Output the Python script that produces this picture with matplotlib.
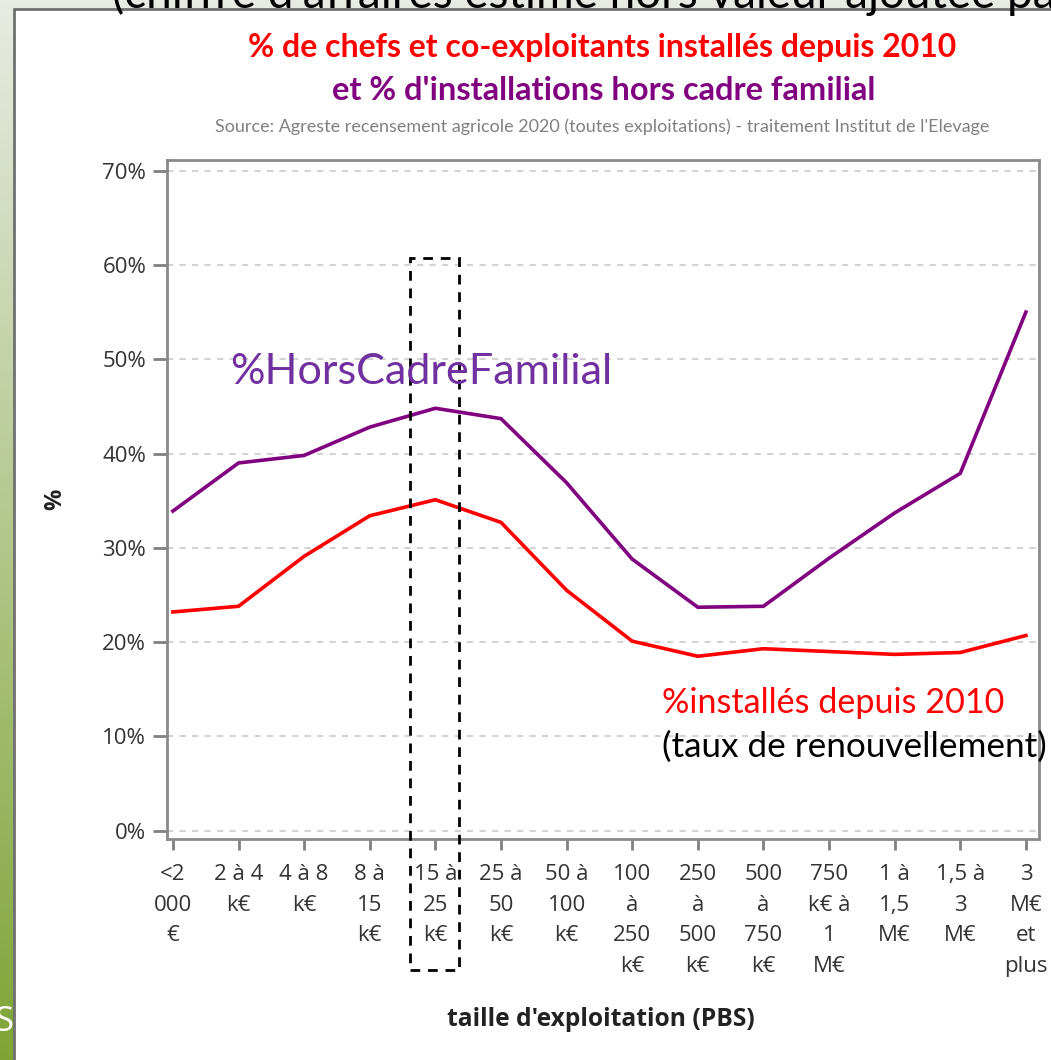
import numpy as np
import matplotlib
matplotlib.use("Agg")
import matplotlib.pyplot as plt
from matplotlib.patches import Rectangle
from matplotlib.colors import to_rgb

# ---------------- data ----------------
categories = ["<2\n000\n€", "2 à 4\nk€", "4 à 8\nk€", "8 à\n15\nk€", "15 à\n25\nk€",
              "25 à\n50\nk€", "50 à\n100\nk€", "100\nà\n250\nk€", "250\nà\n500\nk€",
              "500\nà\n750\nk€", "750\nk€ à\n1\nM€", "1 à\n1,5\nM€", "1,5 à\n3\nM€",
              "3\nM€\net\nplus"]
hors_cadre_familial = [33.9, 39.0, 39.8, 42.8, 44.8, 43.7, 36.9, 28.8, 23.7, 23.8,
                       28.9, 33.7, 37.9, 55.0]
installes_2010 = [23.2, 23.8, 29.1, 33.4, 35.1, 32.7, 25.5, 20.1, 18.5, 19.3,
                  19.0, 18.7, 18.9, 20.7]
y_ticks = [0, 10, 20, 30, 40, 50, 60, 70]
y_ticklabels = ["0%", "10%", "20%", "30%", "40%", "50%", "60%", "70%"]
highlight_index = 4

title1 = "% de chefs et co-exploitants installés depuis 2010"
title2 = "et % d'installations hors cadre familial"
source = "Source: Agreste recensement agricole 2020 (toutes exploitations) - traitement Institut de l'Elevage"

W, H = 1051, 1060
fig = plt.figure(figsize=(W / 100, H / 100), dpi=100)
fig.patch.set_facecolor("white")

# ---------------- background (slide) ----------------
bg = fig.add_axes([0, 0, 1, 1], zorder=-10)
bg.set_xlim(0, W)
bg.set_ylim(H, 0)
bg.axis("off")
c_top = np.array(to_rgb("#e8ebe3"))
c_bot = np.array(to_rgb("#7fa436"))
t = np.linspace(0, 1, 256)[:, None]
grad = (c_top * (1 - t) + c_bot * t)[:, None, :]
bg.imshow(grad, extent=[0, W, H, 0], aspect="auto", zorder=0)
bg.text(-6, 1031, "Sc", color="white", fontsize=25, family="Open Sans",
        va="baseline", ha="left", zorder=1)
bg.add_patch(Rectangle((14, 9), W, H, facecolor="white", edgecolor="#707070",
                       linewidth=2, zorder=2))
bg.text(112, 8, "(chiffre d'affaires estimé hors valeur ajoutée par", color="black",
        fontsize=33, family="Lato", va="baseline", ha="left", zorder=3)

# ---------------- main axes ----------------
L, R, T, B = 167, 1039, 160, 839
ax = fig.add_axes([L / W, 1 - B / H, (R - L) / W, (B - T) / H])
x = np.arange(len(categories))
ax.plot(x, hors_cadre_familial, color="#800080", lw=2.6, solid_joinstyle="miter", zorder=3)
ax.plot(x, installes_2010, color="#ff0000", lw=2.6, solid_joinstyle="miter", zorder=3)

ax.set_xlim(-0.09, 13.2)
ax.set_ylim(-0.88, 71.13)
ax.set_xticks(x)
ax.set_xticklabels(categories, family="Open Sans", fontsize=16, color="#333333",
                   linespacing=1.6, va="top")
ax.set_yticks(y_ticks)
ax.set_yticklabels(y_ticklabels, family="Open Sans", fontsize=16, color="#333333")
ax.tick_params(axis="x", length=8, width=2, color="#808080", pad=10, direction="out")
ax.tick_params(axis="y", length=10, width=2, color="#808080", pad=5, direction="out")
for s in ax.spines.values():
    s.set_color("#8a8a8a")
    s.set_linewidth(2)
ax.yaxis.grid(True, color="#d3d3d3", linestyle=(0, (3, 3)), linewidth=1.5)
ax.set_axisbelow(True)

ax.set_ylabel("%", family="Open Sans", fontweight="bold", fontsize=17, color="#222222")
ax.yaxis.set_label_coords(-0.114, 0.5)
ax.set_xlabel("taille d'exploitation (PBS)", family="Open Sans", fontweight="bold",
              fontsize=17, color="#222222")
ax.xaxis.set_label_coords(0.4977, -0.247)

# highlight rectangle around category
hx0 = highlight_index - 0.385
hx1 = highlight_index + 0.36
ax.add_patch(Rectangle((hx0, -14.8), hx1 - hx0, 60.7 + 14.8, fill=False,
                       edgecolor="black", linewidth=2, linestyle=(0, (3.5, 2.8)),
                       clip_on=False, zorder=4))

renderer = fig.canvas.get_renderer()


def fit(txt, target):
    w = txt.get_window_extent(renderer).width
    txt.set_fontsize(txt.get_fontsize() * target / w)


fit(ax.xaxis.label, 307)


def px_text(xp, yp, s, target=None, **kw):
    tt = fig.text(xp / W, 1 - yp / H, s, **kw)
    if target:
        fit(tt, target)
    return tt


# annotations
a1 = px_text(230, 384, "%HorsCadreFamilial", target=383, color="#7030a0",
             fontsize=28, family="Lato", ha="left", va="baseline")
a2 = px_text(662, 713, "%installés depuis 2010", target=341, color="#ff0000",
             fontsize=22, family="Lato", ha="left", va="baseline")
a3 = px_text(662, 757, "(taux de renouvellement)", target=383, color="black",
             fontsize=22, family="Lato", ha="left", va="baseline")

# titles
t1 = px_text(602, 57, title1, target=709, color="#ff0000", fontsize=18,
             family="Lato", fontweight="bold", ha="center", va="baseline")
t2 = px_text(604, 100, title2, target=546, color="#800080", fontsize=18,
             family="Lato", fontweight="bold", ha="center", va="baseline")
t3 = px_text(602, 132, source, target=775, color="#808080", fontsize=9,
             family="Lato", ha="center", va="baseline")

fig.savefig("out.png", dpi=100)
